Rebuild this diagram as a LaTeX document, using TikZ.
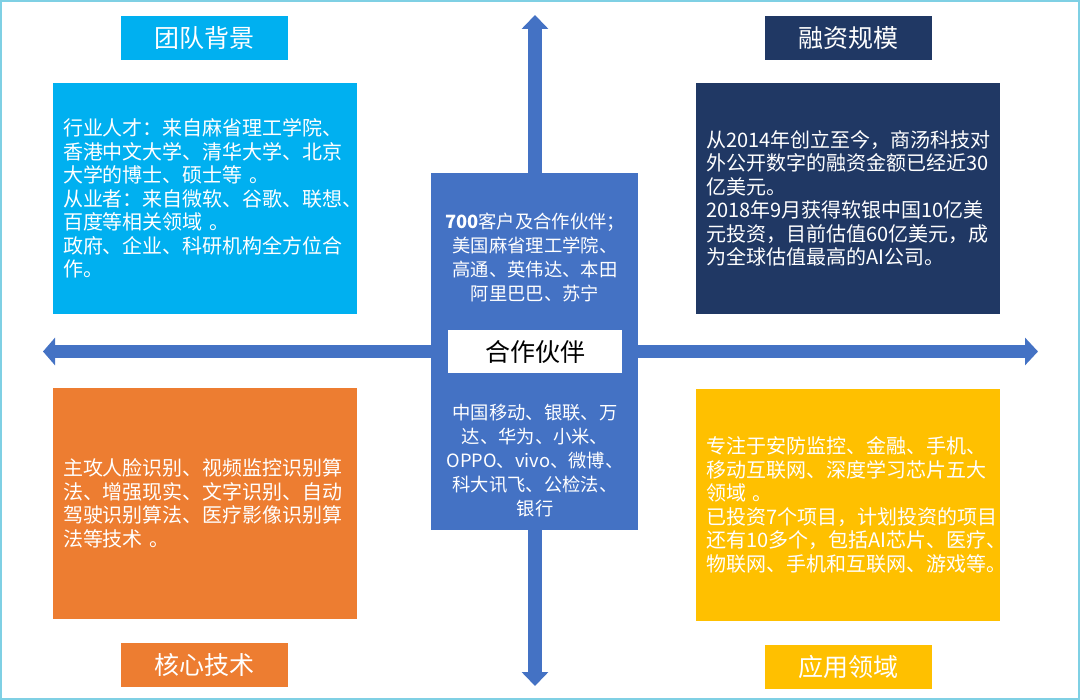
\documentclass[tikz,border=0pt]{standalone}
\usepackage{fontspec}
\setmainfont{Noto Sans CJK SC}
\usetikzlibrary{arrows.meta}
\definecolor{teamc}{HTML}{00B0F0}
\definecolor{fundc}{HTML}{203864}
\definecolor{techc}{HTML}{ED7D31}
\definecolor{appc}{HTML}{FFC000}
\definecolor{partc}{HTML}{4472C4}
\definecolor{framec}{HTML}{7FD0E4}
\tikzset{
  titlebox/.style={minimum width=167pt, minimum height=44pt, inner sep=0pt, text=white,
    font=\fontsize{25}{28}\selectfont},
  bodybox/.style={minimum width=304pt, minimum height=231pt, text width=284pt, inner xsep=10pt,
    inner ysep=0pt, align=left, text=white, font=\fontsize{20}{23.5}\selectfont},
  midtext/.style={align=center, text=white, inner sep=0pt, font=\fontsize{18.3}{24}\selectfont},
  bigarrow/.style={draw=partc, line width=14pt,
    -{Triangle[width=26pt, length=14pt]}},
  bigarrows/.style={draw=partc, line width=13pt,
    {Triangle[width=27pt, length=12pt]}-{Triangle[width=27pt, length=13pt]}},
}
\begin{document}
\begin{tikzpicture}[x=1pt, y=-1pt]
\useasboundingbox (0,0) rectangle (1080,700);
\draw[framec, line width=2pt] (1,1) rectangle (1079,699);
% cross arrows
\coordinate (ctr) at (535,351.5);
\coordinate (up) at (535,15);
\coordinate (down) at (535,686);
\coordinate (lft) at (43,351.5);
\coordinate (rgt) at (1038,351.5);
\draw[bigarrow] (ctr) -- (up);
\draw[bigarrow] (ctr) -- (down);
\draw[bigarrows] (lft) -- (rgt);
% centre
\node[fill=partc, minimum width=207pt, minimum height=357pt, inner sep=0pt] (mid) at (534.5,351.5) {};
\node[fill=white, minimum width=174pt, minimum height=43pt, inner sep=0pt,
  font=\fontsize{25}{28}\selectfont] (midt) at (535,351.5) {合作伙伴};
\node[midtext] (midup) at (535,257.5) {\textbf{700}客户及合作伙伴；\\美国麻省理工学院、\\高通、英伟达、本田\\阿里巴巴、苏宁};
\node[midtext] (middn) at (535,461) {中国移动、银联、万\\达、华为、小米、\\OPPO、vivo、微博、\\科大讯飞、公检法、\\银行};
% titles
\node[titlebox, fill=teamc] (t1) at (204.5,38) {团队背景};
\node[titlebox, fill=fundc] (t2) at (848.5,38) {融资规模};
\node[titlebox, fill=techc] (t3) at (204.5,665) {核心技术};
\node[titlebox, fill=appc] (t4) at (848.5,666.5) {应用领域};
% bodies
\node[bodybox, fill=teamc] (b1) at (205,198.5) {行业人才：来自麻省理工学院、\\香港中文大学、清华大学、北京\\大学的博士、硕士等 。\\从业者：来自微软、谷歌、联想、\\百度等相关领域 。\\政府、企业、科研机构全方位合\\作。};
\node[bodybox, fill=fundc] (b2) at (848,198.5) {从2014年创立至今，商汤科技对\\外公开数字的融资金额已经近30\\亿美元。\\2018年9月获得软银中国10亿美\\元投资，目前估值60亿美元，成\\为全球估值最高的AI公司。};
\node[bodybox, fill=techc] (b3) at (205,503.5) {主攻人脸识别、视频监控识别算\\法、增强现实、文字识别、自动\\驾驶识别算法、医疗影像识别算\\法等技术 。};
\node[bodybox, fill=appc] (b4) at (848,505) {专注于安防监控、金融、手机、\\移动互联网、深度学习芯片五大\\领域 。\\已投资7个项目，计划投资的项目\\还有10多个，包括AI芯片、医疗、\\物联网、手机和互联网、游戏等。};
\end{tikzpicture}
\end{document}
